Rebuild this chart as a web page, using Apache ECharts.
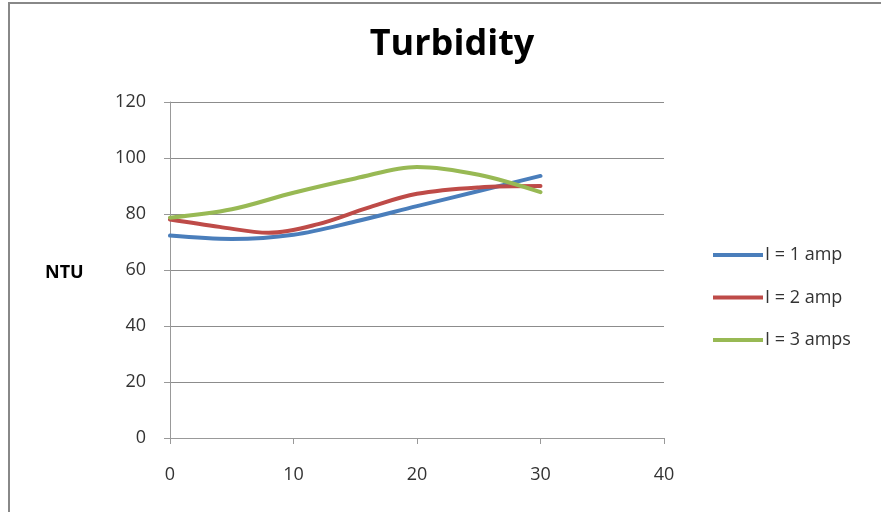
<!DOCTYPE html>
<html><head><meta charset="utf-8">
<script src="https://cdn.jsdelivr.net/npm/echarts@6/dist/echarts.min.js"></script>
<style>html,body{margin:0;padding:0;background:#fff}#c{width:881px;height:512px}</style>
</head><body><div id="c"></div>
<script>
const xValues = [0, 5, 10, 15, 20, 25, 30];
const amp1 = [72.3, 71.1, 72.6, 77.3, 82.8, 88.2, 93.6];
const xValuesAmp2 = [0, 4, 8, 12, 16, 20, 25, 30];
const amp2 = [78.0, 75.4, 73.3, 76.4, 82.2, 87.2, 89.5, 90.0];
const amp3 = [78.7, 81.7, 87.6, 92.7, 96.8, 94.0, 87.8];
const seriesNames = ['I = 1 amp', 'I = 2 amp', 'I = 3 amps'];
const colors = ['#4a7ebb', '#be4b48', '#98b954'];
const xTicks = [0, 10, 20, 30, 40];
const yTicks = [0, 20, 40, 60, 80, 100, 120];

const font = '"Open Sans", "Noto Sans", sans-serif';
const chart = echarts.init(document.getElementById('c'), null, {renderer: 'canvas'});
const allX = [xValues, xValuesAmp2, xValues];
const allData = [amp1, amp2, amp3];
chart.setOption({
  animation: false,
  backgroundColor: '#fff',
  title: {text: 'Turbidity', left: 447, top: 22, textAlign: 'center',
    textStyle: {fontFamily: font, fontSize: 36, fontWeight: 'bold', color: '#000'}},
  graphic: [
    {type: 'rect', shape: {x: 9, y: 3, width: 1000, height: 600}, style: {fill: 'none', stroke: '#888', lineWidth: 2}, z: -1},
    {type: 'text', x: 45, y: 273, style: {text: 'NTU', font: 'bold 18px ' + font, fill: '#000', verticalAlign: 'middle'}}
  ],
  legend: {
    orient: 'vertical', left: 713, top: 244, padding: 0, itemGap: 20.5, itemWidth: 50, itemHeight: 4,
    icon: 'rect', itemStyle: {borderWidth: 0},
    textStyle: {fontFamily: font, fontSize: 18, lineHeight: 22, color: '#333', padding: [0, 0, 0, -3]},
    data: seriesNames
  },
  grid: {left: 170, top: 102, width: 494, height: 336},
  xAxis: {type: 'value', min: 0, max: 40, interval: 10,
    axisLine: {lineStyle: {color: '#999', width: 1}},
    axisTick: {show: true, length: 6, lineStyle: {color: '#999'}},
    splitLine: {show: false},
    axisLabel: {fontFamily: font, fontSize: 18, color: '#333', margin: 28,
      formatter: v => xTicks.includes(v) ? String(v) : ''}},
  yAxis: {type: 'value', min: 0, max: 120, interval: 20,
    axisLine: {show: true, lineStyle: {color: '#999', width: 1}},
    axisTick: {show: true, length: 6, inside: false, lineStyle: {color: '#999'}},
    splitLine: {lineStyle: {color: '#8c8c8c', width: 1}},
    axisLabel: {fontFamily: font, fontSize: 18, color: '#333', margin: 24,
      formatter: v => yTicks.includes(v) ? String(v) : ''}},
  series: seriesNames.map((n, i) => ({
    name: n, type: 'line', smooth: 0.35, showSymbol: false, symbol: 'none',
    lineStyle: {color: colors[i], width: 4, cap: 'round'},
    itemStyle: {color: colors[i]},
    data: allX[i].map((x, j) => [x, allData[i][j]])
  }))
});
</script></body></html>
